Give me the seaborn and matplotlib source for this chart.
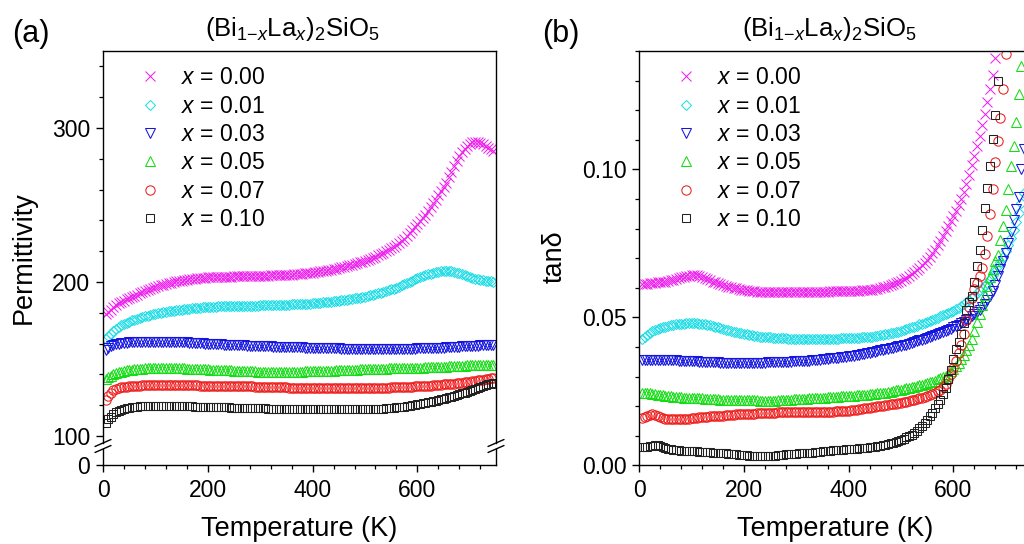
import matplotlib
matplotlib.use("Agg")
import matplotlib.pyplot as plt
from matplotlib.lines import Line2D
from matplotlib.ticker import MultipleLocator, FixedLocator, FormatStrFormatter
import seaborn as sns

# ---------------------------------------------------------------------------
# Compositions (Bi1-xLax)2SiO5 and their plotting styles
# ---------------------------------------------------------------------------
COMPOSITIONS = ["0.00", "0.01", "0.03", "0.05", "0.07", "0.10"]
COLORS = ["#EE22EE", "#22DDE6", "#1515E0", "#15DD15", "#EE1C1C", "#222222"]
MARKERS = ["x", "D", "v", "^", "o", "s"]
MARKER_SIZES = [6.7, 5.0, 7.0, 7.0, 6.7, 5.3]

# ---------------------------------------------------------------------------
# Permittivity vs temperature (K), 5 K steps from 5 K to 745 K
# ---------------------------------------------------------------------------
T_EPS = list(range(5, 750, 5))

EPS_000 = [179.0, 180.5, 182.0, 183.6, 185.0, 186.1, 187.0, 187.9, 188.7, 189.5,
           190.2, 191.0, 191.8, 192.6, 193.3, 194.0, 194.7, 195.4, 196.0, 196.6,
           197.2, 197.7, 198.2, 198.7, 199.1, 199.5, 199.9, 200.3, 200.6, 200.9,
           201.2, 201.5, 201.7, 201.9, 202.1, 202.3, 202.5, 202.7, 202.8, 202.9,
           203.0, 203.1, 203.2, 203.3, 203.3, 203.4, 203.4, 203.5, 203.5, 203.6,
           203.6, 203.7, 203.7, 203.7, 203.7, 203.8, 203.8, 203.9, 203.9, 204.0,
           204.0, 204.1, 204.1, 204.2, 204.2, 204.3, 204.3, 204.4, 204.5, 204.6,
           204.7, 204.8, 204.9, 205.0, 205.2, 205.3, 205.5, 205.7, 205.9, 206.1,
           206.3, 206.5, 206.8, 207.1, 207.4, 207.7, 208.0, 208.3, 208.7, 209.1,
           209.5, 209.9, 210.3, 210.7, 211.2, 211.7, 212.2, 212.7, 213.2, 213.8,
           214.4, 215.0, 215.7, 216.4, 217.2, 218.0, 218.9, 219.8, 220.8, 221.9,
           223.0, 224.2, 225.5, 226.8, 228.2, 229.9, 231.6, 233.5, 235.5, 237.5,
           239.6, 241.7, 243.8, 246.1, 248.5, 251.0, 253.5, 256.2, 259.0, 261.7,
           264.5, 268.0, 271.5, 275.0, 278.5, 281.5, 284.2, 286.4, 288.3, 289.6,
           290.6, 290.9, 290.6, 290.0, 289.3, 288.3, 287.3, 286.2, 285.2]
EPS_001 = [163.0, 164.8, 166.5, 168.0, 169.5, 170.7, 171.8, 172.7, 173.6, 174.3,
           175.0, 175.6, 176.2, 176.8, 177.3, 177.8, 178.2, 178.6, 179.0, 179.4,
           179.7, 180.0, 180.3, 180.6, 180.9, 181.2, 181.4, 181.7, 181.9, 182.1,
           182.3, 182.5, 182.7, 182.9, 183.0, 183.2, 183.3, 183.5, 183.6, 183.7,
           183.8, 183.9, 184.0, 184.1, 184.2, 184.3, 184.3, 184.4, 184.4, 184.5,
           184.5, 184.5, 184.5, 184.6, 184.6, 184.6, 184.6, 184.7, 184.7, 184.8,
           184.8, 184.9, 184.9, 185.0, 185.0, 185.1, 185.1, 185.2, 185.2, 185.3,
           185.3, 185.4, 185.4, 185.5, 185.6, 185.7, 185.8, 185.9, 186.0, 186.1,
           186.2, 186.4, 186.5, 186.7, 186.8, 187.0, 187.2, 187.4, 187.6, 187.8,
           188.0, 188.3, 188.5, 188.8, 189.0, 189.3, 189.6, 189.9, 190.2, 190.5,
           190.9, 191.3, 191.7, 192.1, 192.5, 193.0, 193.4, 194.0, 194.5, 195.1,
           195.7, 196.3, 197.0, 197.7, 198.5, 199.2, 200.0, 200.8, 201.6, 202.3,
           203.0, 203.7, 204.3, 204.9, 205.4, 205.9, 206.3, 206.6, 206.9, 207.0,
           207.1, 207.0, 206.8, 206.4, 206.0, 205.5, 205.0, 204.4, 203.8, 203.2,
           202.7, 202.2, 201.7, 201.3, 201.0, 200.7, 200.5, 200.3, 200.2]
EPS_003 = [156.0, 157.2, 158.2, 158.9, 159.5, 159.9, 160.2, 160.4, 160.6, 160.7,
           160.8, 160.9, 161.0, 161.1, 161.1, 161.2, 161.2, 161.3, 161.3, 161.3,
           161.3, 161.3, 161.3, 161.3, 161.2, 161.2, 161.1, 161.1, 161.0, 160.9,
           160.8, 160.7, 160.6, 160.5, 160.4, 160.3, 160.2, 160.1, 160.0, 159.9,
           159.8, 159.7, 159.6, 159.5, 159.4, 159.3, 159.2, 159.1, 159.0, 159.0,
           158.9, 158.9, 158.8, 158.8, 158.7, 158.7, 158.6, 158.5, 158.4, 158.4,
           158.3, 158.3, 158.2, 158.1, 158.0, 158.0, 157.9, 157.9, 157.8, 157.8,
           157.7, 157.7, 157.6, 157.6, 157.5, 157.5, 157.4, 157.4, 157.3, 157.3,
           157.2, 157.2, 157.1, 157.1, 157.0, 157.0, 156.9, 156.9, 156.8, 156.8,
           156.7, 156.7, 156.6, 156.6, 156.5, 156.5, 156.5, 156.5, 156.4, 156.4,
           156.4, 156.4, 156.4, 156.4, 156.4, 156.4, 156.4, 156.4, 156.4, 156.5,
           156.5, 156.5, 156.5, 156.6, 156.6, 156.6, 156.6, 156.7, 156.7, 156.8,
           156.8, 156.9, 156.9, 157.0, 157.0, 157.1, 157.1, 157.2, 157.3, 157.4,
           157.5, 157.6, 157.7, 157.8, 157.9, 158.0, 158.1, 158.2, 158.3, 158.4,
           158.5, 158.6, 158.7, 158.8, 158.9, 159.0, 159.1, 159.2, 159.3]
EPS_005 = [137.0, 138.2, 139.2, 140.1, 140.8, 141.3, 141.8, 142.2, 142.5, 142.8,
           143.0, 143.2, 143.4, 143.6, 143.7, 143.8, 143.9, 144.0, 144.0, 144.1,
           144.1, 144.1, 144.1, 144.1, 144.1, 144.1, 144.0, 144.0, 143.9, 143.9,
           143.8, 143.7, 143.6, 143.6, 143.5, 143.5, 143.4, 143.3, 143.2, 143.2,
           143.1, 143.0, 142.9, 142.9, 142.8, 142.7, 142.6, 142.6, 142.5, 142.4,
           142.3, 142.3, 142.2, 142.1, 142.0, 142.0, 141.9, 141.9, 141.8, 141.8,
           141.8, 141.8, 141.8, 141.8, 141.8, 141.8, 141.8, 141.8, 141.8, 141.8,
           141.8, 141.8, 141.8, 141.8, 141.8, 141.8, 141.9, 141.9, 142.0, 142.0,
           142.1, 142.1, 142.2, 142.2, 142.3, 142.3, 142.4, 142.4, 142.5, 142.6,
           142.7, 142.7, 142.8, 142.8, 142.9, 143.0, 143.1, 143.2, 143.3, 143.3,
           143.4, 143.4, 143.5, 143.5, 143.6, 143.6, 143.7, 143.7, 143.8, 143.8,
           143.9, 143.9, 144.0, 144.0, 144.1, 144.1, 144.2, 144.2, 144.3, 144.3,
           144.4, 144.4, 144.5, 144.5, 144.5, 144.5, 144.6, 144.7, 144.8, 144.9,
           145.0, 145.1, 145.2, 145.3, 145.4, 145.5, 145.6, 145.7, 145.8, 145.8,
           145.9, 145.9, 146.0, 146.0, 146.1, 146.1, 146.2, 146.2, 146.3]
EPS_007 = [123.5, 126.0, 128.0, 129.5, 130.5, 131.1, 131.5, 131.8, 132.0, 132.2,
           132.3, 132.5, 132.6, 132.7, 132.8, 132.9, 133.0, 133.0, 133.1, 133.1,
           133.2, 133.2, 133.2, 133.2, 133.2, 133.2, 133.2, 133.2, 133.1, 133.1,
           133.0, 133.0, 132.9, 132.9, 132.8, 132.8, 132.7, 132.7, 132.6, 132.6,
           132.5, 132.5, 132.4, 132.4, 132.4, 132.3, 132.3, 132.3, 132.3, 132.2,
           132.2, 132.2, 132.2, 132.1, 132.1, 132.1, 132.1, 132.0, 132.0, 132.0,
           131.9, 131.9, 131.8, 131.8, 131.7, 131.7, 131.6, 131.6, 131.5, 131.5,
           131.4, 131.4, 131.3, 131.3, 131.2, 131.2, 131.1, 131.1, 131.0, 131.0,
           131.0, 131.0, 131.0, 131.0, 130.9, 130.9, 130.9, 130.9, 130.9, 130.9,
           130.9, 130.9, 130.9, 130.9, 130.9, 131.0, 131.0, 131.0, 131.0, 131.0,
           131.0, 131.1, 131.1, 131.2, 131.2, 131.3, 131.3, 131.4, 131.4, 131.5,
           131.5, 131.6, 131.6, 131.7, 131.8, 131.9, 131.9, 132.0, 132.1, 132.2,
           132.3, 132.4, 132.5, 132.6, 132.7, 132.9, 133.0, 133.1, 133.2, 133.4,
           133.5, 133.7, 133.8, 134.0, 134.2, 134.4, 134.6, 134.8, 135.0, 135.3,
           135.5, 135.8, 136.0, 136.3, 136.5, 136.8, 137.0, 137.3, 137.5]
EPS_010 = [108.5, 110.7, 112.5, 114.0, 115.3, 116.2, 117.0, 117.5, 118.0, 118.3,
           118.6, 118.8, 119.0, 119.2, 119.3, 119.4, 119.5, 119.6, 119.6, 119.6,
           119.6, 119.6, 119.6, 119.6, 119.5, 119.5, 119.5, 119.5, 119.4, 119.4,
           119.3, 119.3, 119.2, 119.2, 119.1, 119.1, 119.0, 119.0, 118.9, 118.9,
           118.8, 118.8, 118.7, 118.7, 118.6, 118.6, 118.5, 118.5, 118.4, 118.4,
           118.3, 118.3, 118.2, 118.2, 118.1, 118.1, 118.0, 118.0, 118.0, 118.0,
           117.9, 117.9, 117.8, 117.8, 117.7, 117.7, 117.6, 117.6, 117.5, 117.5,
           117.5, 117.5, 117.4, 117.4, 117.4, 117.4, 117.3, 117.3, 117.3, 117.3,
           117.2, 117.2, 117.2, 117.2, 117.2, 117.2, 117.2, 117.2, 117.2, 117.2,
           117.2, 117.2, 117.2, 117.2, 117.2, 117.2, 117.3, 117.3, 117.3, 117.3,
           117.4, 117.4, 117.5, 117.5, 117.6, 117.7, 117.8, 117.9, 118.0, 118.1,
           118.3, 118.5, 118.7, 118.9, 119.1, 119.3, 119.6, 119.9, 120.2, 120.5,
           120.8, 121.1, 121.5, 121.8, 122.2, 122.6, 123.0, 123.4, 123.8, 124.2,
           124.7, 125.1, 125.6, 126.1, 126.6, 127.1, 127.6, 128.1, 128.7, 129.2,
           129.8, 130.4, 131.0, 131.6, 132.2, 132.8, 133.4, 133.9, 134.5]

# ---------------------------------------------------------------------------
# Dielectric loss tan(delta) vs temperature (K), 5 K steps from 5 K;
# each series ends where it leaves the plotted range
# ---------------------------------------------------------------------------
T_TAN = list(range(5, 751, 5))

TAN_000 = [.0612, .0613, .0614, .0615, .0616, .0617, .0618, .0619, .0620, .0621,
           .0623, .0625, .0627, .0630, .0632, .0635, .0637, .0639, .0641, .0642,
           .0643, .0642, .0640, .0637, .0633, .0629, .0625, .0621, .0618, .0615,
           .0612, .0609, .0607, .0604, .0602, .0600, .0598, .0596, .0594, .0592,
           .0591, .0590, .0589, .0588, .0587, .0586, .0586, .0585, .0585, .0585,
           .0585, .0584, .0584, .0584, .0584, .0584, .0584, .0584, .0584, .0584,
           .0585, .0585, .0585, .0585, .0585, .0585, .0586, .0586, .0586, .0586,
           .0587, .0587, .0588, .0588, .0588, .0588, .0589, .0589, .0589, .0589,
           .0590, .0590, .0590, .0590, .0591, .0591, .0592, .0593, .0594, .0595,
           .0597, .0599, .0601, .0603, .0606, .0609, .0612, .0616, .0620, .0624,
           .0629, .0634, .0640, .0646, .0652, .0660, .0668, .0676, .0685, .0695,
           .0705, .0716, .0729, .0743, .0758, .0775, .0791, .0807, .0824, .0841,
           .0859, .0879, .0901, .0925, .0952, .0982, .1014, .1046, .1080, .1114,
           .1150, .1187, .1227, .1270, .1320, .1378]
TAN_001 = [.0428, .0434, .0440, .0447, .0453, .0458, .0462, .0465, .0467, .0469,
           .0471, .0473, .0474, .0476, .0477, .0478, .0479, .0480, .0480, .0480,
           .0480, .0480, .0479, .0478, .0477, .0475, .0473, .0471, .0468, .0466,
           .0463, .0461, .0458, .0456, .0454, .0452, .0450, .0448, .0446, .0444,
           .0442, .0441, .0439, .0438, .0436, .0435, .0434, .0433, .0432, .0432,
           .0431, .0431, .0430, .0430, .0429, .0429, .0428, .0428, .0428, .0428,
           .0428, .0428, .0428, .0428, .0428, .0428, .0428, .0428, .0428, .0428,
           .0428, .0428, .0428, .0428, .0428, .0428, .0429, .0429, .0429, .0429,
           .0430, .0430, .0431, .0431, .0432, .0432, .0433, .0434, .0435, .0436,
           .0438, .0439, .0441, .0442, .0444, .0446, .0448, .0450, .0452, .0454,
           .0457, .0460, .0463, .0466, .0469, .0472, .0476, .0479, .0482, .0485,
           .0488, .0492, .0495, .0499, .0503, .0507, .0511, .0515, .0519, .0523,
           .0528, .0533, .0539, .0545, .0551, .0557, .0565, .0573, .0582, .0591,
           .0600, .0607, .0617, .0629, .0643, .0658, .0673, .0688, .0705, .0724,
           .0745, .0768, .0795, .0823, .0852, .0885, .0920]
TAN_003 = [.0355, .0355, .0356, .0356, .0357, .0357, .0357, .0357, .0357, .0357,
           .0356, .0356, .0355, .0355, .0354, .0354, .0353, .0353, .0352, .0352,
           .0351, .0351, .0350, .0350, .0349, .0349, .0348, .0348, .0348, .0348,
           .0347, .0347, .0347, .0347, .0346, .0346, .0346, .0346, .0346, .0346,
           .0346, .0346, .0346, .0346, .0347, .0347, .0347, .0347, .0348, .0348,
           .0348, .0348, .0349, .0349, .0349, .0349, .0350, .0350, .0351, .0351,
           .0352, .0352, .0353, .0353, .0354, .0355, .0356, .0356, .0357, .0358,
           .0359, .0360, .0361, .0362, .0363, .0364, .0365, .0366, .0367, .0368,
           .0369, .0370, .0372, .0373, .0375, .0376, .0378, .0380, .0382, .0384,
           .0386, .0388, .0390, .0392, .0394, .0396, .0398, .0400, .0402, .0404,
           .0406, .0408, .0411, .0413, .0416, .0419, .0422, .0425, .0428, .0431,
           .0434, .0437, .0440, .0443, .0446, .0450, .0454, .0458, .0462, .0466,
           .0470, .0475, .0480, .0485, .0490, .0496, .0503, .0510, .0518, .0526,
           .0535, .0546, .0558, .0573, .0590, .0610, .0638, .0662, .0690, .0716,
           .0752, .0790, .0830, .0865, .0905, .1000, .1070]
TAN_005 = [.0243, .0244, .0244, .0243, .0242, .0241, .0239, .0238, .0236, .0235,
           .0234, .0233, .0232, .0231, .0230, .0230, .0229, .0229, .0228, .0228,
           .0227, .0227, .0226, .0226, .0225, .0225, .0224, .0224, .0223, .0223,
           .0222, .0222, .0221, .0221, .0221, .0220, .0220, .0220, .0220, .0219,
           .0219, .0219, .0219, .0219, .0219, .0218, .0218, .0218, .0218, .0218,
           .0218, .0218, .0219, .0219, .0220, .0221, .0222, .0222, .0223, .0223,
           .0224, .0224, .0225, .0225, .0226, .0226, .0227, .0227, .0228, .0228,
           .0229, .0230, .0231, .0231, .0232, .0232, .0233, .0233, .0234, .0234,
           .0235, .0235, .0236, .0236, .0237, .0238, .0239, .0240, .0241, .0242,
           .0243, .0244, .0245, .0246, .0248, .0249, .0251, .0253, .0255, .0256,
           .0258, .0260, .0262, .0264, .0266, .0268, .0270, .0272, .0275, .0277,
           .0280, .0283, .0286, .0290, .0294, .0298, .0303, .0310, .0318, .0326,
           .0335, .0346, .0358, .0372, .0388, .0405, .0428, .0455, .0483, .0512,
           .0543, .0575, .0605, .0636, .0665, .0690, .0712, .0760, .0810, .0862,
           .0935, .1010, .1080, .1160, .1255, .1350]
TAN_007 = [.0159, .0164, .0168, .0171, .0173, .0171, .0168, .0164, .0160, .0158,
           .0156, .0155, .0155, .0155, .0156, .0156, .0157, .0157, .0158, .0159,
           .0160, .0161, .0162, .0162, .0163, .0164, .0165, .0165, .0166, .0167,
           .0168, .0168, .0169, .0170, .0171, .0171, .0172, .0172, .0173, .0173,
           .0174, .0174, .0175, .0175, .0176, .0176, .0177, .0177, .0178, .0178,
           .0178, .0178, .0179, .0179, .0179, .0179, .0180, .0180, .0180, .0180,
           .0180, .0180, .0180, .0180, .0180, .0180, .0180, .0180, .0181, .0181,
           .0181, .0181, .0181, .0181, .0182, .0182, .0183, .0183, .0184, .0185,
           .0186, .0187, .0188, .0189, .0191, .0192, .0193, .0194, .0196, .0197,
           .0199, .0200, .0202, .0203, .0205, .0206, .0207, .0208, .0210, .0211,
           .0213, .0215, .0217, .0219, .0221, .0223, .0226, .0228, .0231, .0234,
           .0237, .0241, .0245, .0250, .0256, .0265, .0276, .0290, .0308, .0330,
           .0352, .0378, .0408, .0442, .0490, .0535, .0565, .0595, .0617, .0640,
           .0668, .0715, .0775, .0850, .0935, .1024, .1095, .1175, .1270, .1390]
TAN_010 = [.0061, .0062, .0063, .0065, .0066, .0067, .0068, .0066, .0063, .0059,
           .0056, .0054, .0053, .0052, .0051, .0050, .0050, .0049, .0049, .0048,
           .0048, .0047, .0046, .0045, .0045, .0044, .0044, .0043, .0043, .0042,
           .0042, .0041, .0040, .0039, .0038, .0037, .0037, .0036, .0036, .0035,
           .0034, .0033, .0033, .0032, .0032, .0032, .0032, .0032, .0032, .0032,
           .0033, .0033, .0034, .0035, .0036, .0037, .0038, .0038, .0039, .0039,
           .0040, .0040, .0041, .0041, .0042, .0043, .0044, .0045, .0046, .0047,
           .0048, .0049, .0050, .0051, .0052, .0052, .0053, .0053, .0054, .0054,
           .0055, .0055, .0056, .0057, .0058, .0059, .0060, .0061, .0062, .0063,
           .0065, .0066, .0068, .0070, .0072, .0074, .0076, .0079, .0082, .0086,
           .0090, .0094, .0099, .0104, .0110, .0117, .0125, .0134, .0143, .0153,
           .0165, .0178, .0192, .0206, .0222, .0240, .0262, .0290, .0322, .0358,
           .0392, .0418, .0442, .0480, .0524, .0552, .0572, .0620, .0672, .0728,
           .0795, .0868, .0937, .1011, .1103, .1185, .1300]

EPS_SERIES = [EPS_000, EPS_001, EPS_003, EPS_005, EPS_007, EPS_010]
TAN_SERIES = [TAN_000, TAN_001, TAN_003, TAN_005, TAN_007, TAN_010]

TITLE = r"(Bi$_{1\mathrm{-}x}$La$_{x}$)$_{2}$SiO$_{5}$"
XLABEL = "Temperature (K)"

# ---------------------------------------------------------------------------
# Style
# ---------------------------------------------------------------------------
sns.set_style("ticks")
plt.rcParams.update({
    "font.family": ["Liberation Sans", "DejaVu Sans"],
    "mathtext.fontset": "custom",
    "mathtext.rm": "Liberation Sans",
    "mathtext.it": "Liberation Sans:italic",
    "mathtext.bf": "Liberation Sans:bold",
    "text.color": "black",
    "axes.labelcolor": "black",
    "axes.linewidth": 1.0,
    "axes.edgecolor": "black",
    "xtick.color": "black",
    "ytick.color": "black",
    "xtick.labelcolor": "black",
    "ytick.labelcolor": "black",
    "xtick.direction": "out",
    "ytick.direction": "out",
    "xtick.major.size": 5.0,
    "ytick.major.size": 5.0,
    "xtick.minor.size": 3.0,
    "ytick.minor.size": 3.0,
    "xtick.major.width": 1.0,
    "ytick.major.width": 1.0,
    "xtick.minor.width": 0.9,
    "ytick.minor.width": 0.9,
    "xtick.major.pad": 4.6,
    "ytick.major.pad": 4.2,
    "xtick.labelsize": 16.5,
    "ytick.labelsize": 16.5,
})

W, H = 1024, 544
fig = plt.figure(figsize=(W / 100, H / 100), dpi=100)


def px_rect(left, top, right, bottom):
    return [left / W, 1 - bottom / H, (right - left) / W, (bottom - top) / H]


# panel (a): broken y axis -> main part (100..350) and a stub showing 0
ax_a = fig.add_axes(px_rect(103, 51, 496, 443))
ax_a0 = fig.add_axes(px_rect(103, 449, 496, 465.3), sharex=ax_a)
# panel (b)
ax_b = fig.add_axes(px_rect(639.3, 51, 639.3 + 392.6, 465.3))


def draw_series(ax, temps, series_list):
    for comp, vals, color, marker, ms in zip(COMPOSITIONS, series_list, COLORS,
                                             MARKERS, MARKER_SIZES):
        sns.lineplot(x=temps[:len(vals)], y=vals, ax=ax, color=color,
                     marker=marker, markersize=ms, linestyle="none",
                     markerfacecolor="none", markeredgecolor=color,
                     markeredgewidth=0.75, estimator=None, sort=False,
                     label=f"$x$ = {comp}")


draw_series(ax_a, T_EPS, EPS_SERIES)
draw_series(ax_b, T_TAN, TAN_SERIES)

# ---- axes (a) -------------------------------------------------------------
ax_a.set_xlim(0, 750)
ax_a.set_ylim(95.4, 350)
ax_a.yaxis.set_major_locator(FixedLocator([100, 200, 300]))
ax_a.yaxis.set_minor_locator(MultipleLocator(20))
ax_a.spines["bottom"].set_visible(False)
ax_a.tick_params(axis="x", which="both", bottom=False, labelbottom=False)

ax_a0.set_ylim(0, 10.6)
ax_a0.yaxis.set_major_locator(FixedLocator([0]))
ax_a0.yaxis.set_minor_locator(FixedLocator([]))
ax_a0.spines["top"].set_visible(False)
ax_a0.xaxis.set_major_locator(MultipleLocator(200))
ax_a0.xaxis.set_minor_locator(MultipleLocator(40))
ax_a0.set_xlabel(XLABEL, fontsize=19.5, labelpad=10.5)
ax_a.set_ylabel("")
ax_a0.set_ylabel("")

# break marks on both vertical spines of panel (a)
for xs in (103, 496):
    for ys in (443, 449):
        fig.add_artist(Line2D([(xs - 8) / W, (xs + 8) / W],
                              [1 - (ys + 3.5) / H, 1 - (ys - 3.5) / H],
                              transform=fig.transFigure, color="black", lw=1.0))

# ---- axes (b) -------------------------------------------------------------
ax_b.set_xlim(0, 750)
ax_b.set_ylim(0, 0.14)
ax_b.xaxis.set_major_locator(MultipleLocator(200))
ax_b.xaxis.set_minor_locator(MultipleLocator(40))
ax_b.yaxis.set_major_locator(MultipleLocator(0.05))
ax_b.yaxis.set_minor_locator(MultipleLocator(0.01))
ax_b.yaxis.set_major_formatter(FormatStrFormatter("%.2f"))
ax_b.set_xlabel(XLABEL, fontsize=19.5, labelpad=10.5)
ax_b.set_ylabel("")

for ax in (ax_a, ax_a0, ax_b):
    ax.tick_params(which="both", top=False, right=False)

# ---- legends ----------------------------------------------------------------
for ax, x_anchor in ((ax_a, 138.5), (ax_b, 674.5)):
    handles, labels = ax.get_legend_handles_labels()
    ax.legend(handles, labels, loc="upper left",
              bbox_to_anchor=(x_anchor / W, 1 - 66.5 / H),
              bbox_transform=fig.transFigure, frameon=False,
              borderpad=0, borderaxespad=0, handlelength=1.0,
              handletextpad=0.85, labelspacing=0.23, fontsize=16.5)

# ---- titles, panel labels and y labels -------------------------------------
fig.text(292.5 / W, 1 - 36 / H, TITLE, ha="center", va="baseline", fontsize=18.5)
fig.text(829.5 / W, 1 - 36 / H, TITLE, ha="center", va="baseline", fontsize=18.5)
fig.text(12 / W, 1 - 42 / H, "(a)", ha="left", va="baseline", fontsize=22)
fig.text(542 / W, 1 - 42 / H, "(b)", ha="left", va="baseline", fontsize=22)
fig.text(24 / W, 1 - 258 / H, "Permittivity", rotation=90, ha="center",
         va="center", fontsize=19.5)
fig.text(555 / W, 1 - 257 / H, "tan\u03b4", rotation=90, ha="center",
         va="center", fontsize=19.5)

fig.savefig("out.png", dpi=100)
